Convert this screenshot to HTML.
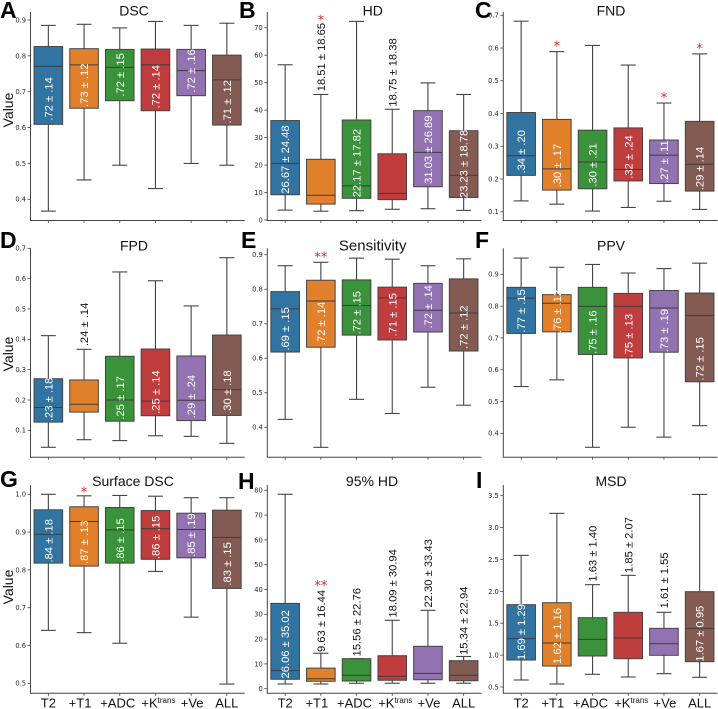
<!DOCTYPE html>
<html lang="en">
<head>
<meta charset="utf-8">
<title>Boxplots of segmentation metrics</title>
<style>
html,body{margin:0;padding:0;background:#fff;width:718px;height:709px;overflow:hidden}
svg{display:block}
.tick{font:6.7px "DejaVu Sans",sans-serif;fill:#262626}
.title{font:14px "Liberation Sans",sans-serif;fill:#111}
.ylab{font:14px "Liberation Sans",sans-serif;fill:#111}
.xlab{font:13px "Liberation Sans",sans-serif;fill:#111}
.letter{font:bold 23px "Liberation Sans",sans-serif;fill:#000}
.val{font:11.2px "Liberation Sans",sans-serif}
.star{font:13px "DejaVu Sans",sans-serif;fill:#d62728}
</style>
</head>
<body>
<svg id="figure" xmlns="http://www.w3.org/2000/svg" width="718" height="709" viewBox="0 0 718 709"></svg>
<script>
const categories = ['T2', '+T1', '+ADC', '+Ktrans', '+Ve', 'ALL'];

const dscLow = [.367, .454, .495, .430, .500, .495];
const dscQ1 = [.609, .654, .675, .647, .689, .607];
const dscMedian = [.771, .775, .768, .775, .759, .733];
const dscQ3 = [.826, .820, .818, .819, .818, .802];
const dscHigh = [.885, .888, .878, .896, .885, .891];
const dscText = ['.72 ± .14', '.73 ± .12', '.72 ± .15', '.72 ± .14', '.72 ± .16', '.71 ± .12'];
const dscTextAt = [.680, .718, .747, .714, .758, .672];
const dscTextWhite = [true, true, true, true, true, true];
const dscStars = ['', '', '', '', '', ''];
const dscStarAt = [0, 0, 0, 0, 0, 0];
const dscTicks = ['0.4', '0.5', '0.6', '0.7', '0.8', '0.9'];

const hdLow = [3.6, 3.2, 3.4, 3.9, 4.1, 3.5];
const hdQ1 = [9.2, 5.8, 7.9, 7.4, 12.1, 8.2];
const hdMedian = [20.6, 9.0, 12.4, 9.7, 24.6, 16.3];
const hdQ3 = [36.2, 22.1, 36.4, 24.1, 39.8, 32.5];
const hdHigh = [56.5, 45.7, 72.3, 40.3, 49.9, 45.7];
const hdText = ['26.67 ± 24.48', '18.51 ± 18.65', '22.17 ± 17.82', '18.75 ± 18.38', '31.03 ± 26.89', '23.23 ± 18.78'];
const hdTextAt = [22.0, 59.3, 20.7, 53.7, 25.6, 20.4];
const hdTextWhite = [true, false, true, false, true, true];
const hdStars = ['', '*', '', '', '', ''];
const hdStarAt = [0, 73.6, 0, 0, 0, 0];
const hdTicks = ['0', '10', '20', '30', '40', '50', '60', '70'];

const fndLow = [.133, .123, .102, .113, .132, .107];
const fndQ1 = [.211, .166, .170, .194, .186, .163];
const fndMedian = [.271, .231, .252, .229, .273, .245];
const fndQ3 = [.403, .382, .349, .356, .319, .376];
const fndHigh = [.682, .589, .608, .548, .432, .582];
const fndText = ['.34 ± .20', '.30 ± .17', '.30 ± .21', '.32 ± .24', '.27 ± .11', '.29 ± .14'];
const fndTextAt = [.283, .241, .243, .267, .253, .232];
const fndTextWhite = [true, true, true, true, true, true];
const fndStars = ['', '*', '', '', '*', '*'];
const fndStarAt = [0, .612, 0, 0, .455, .604];
const fndTicks = ['0.1', '0.2', '0.3', '0.4', '0.5', '0.6', '0.7'];

const fpdLow = [.044, .069, .066, .082, .080, .057];
const fpdQ1 = [.127, .160, .130, .148, .132, .149];
const fpdMedian = [.175, .186, .200, .196, .199, .234];
const fpdQ3 = [.270, .266, .344, .368, .345, .414];
const fpdHigh = [.412, .367, .622, .593, .510, .669];
const fpdText = ['.23 ± .18', '.24 ± .14', '.25 ± .17', '.25 ± .14', '.29 ± .24', '.30 ± .18'];
const fpdTextAt = [.202, .449, .207, .226, .211, .226];
const fpdTextWhite = [true, false, true, true, true, true];
const fpdStars = ['', '', '', '', '', ''];
const fpdStarAt = [0, 0, 0, 0, 0, 0];
const fpdTicks = ['0.1', '0.2', '0.3', '0.4', '0.5', '0.6', '0.7'];

const sensLow = [.423, .342, .481, .440, .516, .464];
const sensQ1 = [.618, .632, .667, .653, .676, .621];
const sensMedian = [.743, .766, .753, .775, .739, .731];
const sensQ3 = [.793, .826, .827, .806, .817, .830];
const sensHigh = [.868, .878, .890, .887, .868, .888];
const sensText = ['.69 ± .15', '.72 ± .14', '.72 ± .15', '.71 ± .15', '.72 ± .14', '.72 ± .12'];
const sensTextAt = [.685, .701, .732, .726, .749, .690];
const sensTextWhite = [true, true, true, true, true, true];
const sensStars = ['', '**', '', '', '', ''];
const sensStarAt = [0, .899, 0, 0, 0, 0];
const sensTicks = ['0.4', '0.5', '0.6', '0.7', '0.8', '0.9'];

const ppvLow = [.547, .568, .356, .419, .388, .424];
const ppvQ1 = [.714, .719, .648, .637, .655, .562];
const ppvMedian = [.825, .809, .799, .799, .794, .770];
const ppvQ3 = [.859, .836, .859, .840, .849, .841];
const ppvHigh = [.951, .922, .931, .904, .918, .935];
const ppvText = ['.77 ± .15', '.76 ± .12', '.75 ± .16', '.75 ± .13', '.73 ± .19', '.72 ± .15'];
const ppvTextAt = [.785, .783, .718, .707, .723, .634];
const ppvTextWhite = [true, true, true, true, true, true];
const ppvStars = ['', '', '', '', '', ''];
const ppvStarAt = [0, 0, 0, 0, 0, 0];
const ppvTicks = ['0.4', '0.5', '0.6', '0.7', '0.8', '0.9'];

const sdscLow = [.640, .634, .606, .796, .675, .498];
const sdscQ1 = [.818, .810, .818, .828, .832, .751];
const sdscMedian = [.894, .928, .906, .909, .907, .886];
const sdscQ3 = [.959, .967, .965, .957, .950, .958];
const sdscHigh = [1.0, .996, .997, .995, .991, .991];
const sdscText = ['.84 ± .18', '.87 ± .13', '.86 ± .15', '.86 ± .15', '.85 ± .19', '.83 ± .15'];
const sdscTextAt = [.877, .873, .879, .886, .892, .816];
const sdscTextWhite = [true, true, true, true, true, true];
const sdscStars = ['', '*', '', '', '', ''];
const sdscStarAt = [0, 1.011, 0, 0, 0, 0];
const sdscTicks = ['0.5', '0.6', '0.7', '0.8', '0.9', '1.0'];

const hd95Low = [1.9, 1.9, 2.2, 2.2, 2.2, 2.2];
const hd95Q1 = [3.8, 3.0, 3.1, 3.4, 3.6, 3.2];
const hd95Median = [7.3, 4.0, 5.4, 5.0, 6.2, 5.4];
const hd95Q3 = [34.4, 8.3, 12.1, 13.3, 17.1, 11.3];
const hd95High = [78.4, 14.3, 12.1, 27.6, 31.6, 13.0];
const hd95Text = ['26.06 ± 35.02', '9.63 ± 16.44', '15.56 ± 22.76', '18.09 ± 30.94', '22.30 ± 33.43', '15.34 ± 22.94'];
const hd95TextAt = [17.9, 27.3, 26.8, 42.5, 46.5, 27.4];
const hd95TextWhite = [true, false, false, false, false, false];
const hd95Stars = ['', '**', '', '', '', ''];
const hd95StarAt = [0, 42.5, 0, 0, 0, 0];
const hd95Ticks = ['0', '10', '20', '30', '40', '50', '60', '70', '80'];

const msdLow = [.610, .547, .699, .657, .709, .652];
const msdQ1 = [.923, .829, .986, .944, .997, .897];
const msdMedian = [1.258, 1.190, 1.247, 1.268, 1.179, 1.420];
const msdQ3 = [1.791, 1.822, 1.587, 1.671, 1.420, 1.995];
const msdHigh = [2.564, 3.223, 2.105, 2.251, 1.671, 3.520];
const msdText = ['1.69 ± 1.29', '1.62 ± 1.16', '1.63 ± 1.40', '1.85 ± 2.07', '1.61 ± 1.55', '1.67 ± 0.95'];
const msdTextAt = [1.362, 1.300, 2.591, 2.727, 2.172, 1.336];
const msdTextWhite = [true, true, false, false, false, true];
const msdStars = ['', '', '', '', '', ''];
const msdStarAt = [0, 0, 0, 0, 0, 0];
const msdTicks = ['0.5', '1.0', '1.5', '2.0', '2.5', '3.0', '3.5'];

const colors = ['#3274a1', '#e1812c', '#3a923a', '#c03d3e', '#9372b2', '#845b53'];
const SVG_NS = 'http://www.w3.org/2000/svg';
const INK = '#444444';
const svg = document.getElementById('figure');

function make(parent, tag, attrs) {
  const node = document.createElementNS(SVG_NS, tag);
  for (const key in attrs) node.setAttribute(key, attrs[key]);
  parent.appendChild(node);
  return node;
}

function drawPanel(p) {
  const xOf = i => p.x0 + 17.85 + 35.7 * i;
  const yOf = v => p.pa + (v - p.va) * (p.pb - p.pa) / (p.vb - p.va);

  const g = make(svg, 'g', {});
  
  

  const spineY = make(g, 'line', {x1: p.x0, x2: p.x0, y1: p.top, y2: p.bottom, stroke: INK, 'stroke-width': 1});
  
  

  const spineX = make(g, 'line', {x1: p.x0 - .5, x2: p.x0 + 214.2, y1: p.bottom, y2: p.bottom, stroke: INK, 'stroke-width': 1});
  
  

  const title = make(g, 'text', {x: p.titleX, y: p.titleY, 'text-anchor': 'middle', class: 'title'});
  if (p.title === 'Sensitivity') title.setAttribute('font-size', '15');
  if (p.title === 'Sensitivity') title.style.fontSize = '15px';
  title.textContent = p.title;
  
  

  const letter = make(g, 'text', {x: p.letterX, y: p.letterY, class: 'letter'});
  letter.textContent = p.letter;
  
  

  p.ticks.forEach(label => {
    const v = parseFloat(label);
    const tick = make(g, 'line', {x1: p.x0 - 3, x2: p.x0, y1: yOf(v), y2: yOf(v), stroke: INK, 'stroke-width': .8});
    
    
    const tickLabel = make(g, 'text', {x: p.x0 - 4.5, y: yOf(v) + 2.4, 'text-anchor': 'end', class: 'tick'});
    tickLabel.textContent = label;
    
    
  });

  if (p.yLabelAt) {
    const yLabel = make(g, 'text', {transform: 'translate(13,' + p.yLabelAt + ') rotate(-90)', 'text-anchor': 'middle', class: 'ylab'});
    yLabel.textContent = 'Value';
    
    
  }

  categories.forEach((cat, i) => {
    const cx = xOf(i);
    const box = make(g, 'g', {});
    
    

    const xTick = make(box, 'line', {x1: cx, x2: cx, y1: p.bottom, y2: p.bottom + 2.5, stroke: INK, 'stroke-width': .8});
    
    

    const whiskerHigh = make(box, 'line', {x1: cx, x2: cx, y1: yOf(p.q3[i]), y2: yOf(p.high[i]), stroke: INK, 'stroke-width': 1.1});
    
    

    const whiskerLow = make(box, 'line', {x1: cx, x2: cx, y1: yOf(p.q1[i]), y2: yOf(p.low[i]), stroke: INK, 'stroke-width': 1.1});
    
    

    const capHigh = make(box, 'line', {x1: cx - 7.5, x2: cx + 7.5, y1: yOf(p.high[i]), y2: yOf(p.high[i]), stroke: INK, 'stroke-width': 1.1});
    
    

    const capLow = make(box, 'line', {x1: cx - 7.5, x2: cx + 7.5, y1: yOf(p.low[i]), y2: yOf(p.low[i]), stroke: INK, 'stroke-width': 1.1});
    
    

    const rect = make(box, 'rect', {x: cx - 14.3, width: 28.6, y: yOf(p.q3[i]), height: yOf(p.q1[i]) - yOf(p.q3[i]), fill: colors[i], stroke: INK, 'stroke-width': 1});
    
    

    const median = make(box, 'line', {x1: cx - 14.3, x2: cx + 14.3, y1: yOf(p.median[i]), y2: yOf(p.median[i]), stroke: '#3c3c3c', 'stroke-width': 1});
    
    

    const value = make(box, 'text', {transform: 'translate(' + cx + ',' + yOf(p.textAt[i]) + ') rotate(-90)', 'text-anchor': 'middle', dy: '.36em', class: 'val', fill: p.textWhite[i] ? '#fff' : '#111'});
    value.textContent = p.text[i];
    
    

    if (p.stars[i]) {
      const star = make(box, 'text', {x: cx, y: yOf(p.starAt[i]) + 6.5, 'text-anchor': 'middle', class: 'star'});
      star.textContent = p.stars[i];
      
      
    }

    if (p.xLabels) {
      const nudge = [0, -4, -2, 3, 1, 0][i];
      const xLabel = make(box, 'text', {x: cx + nudge, y: p.bottom + 14.3, 'text-anchor': 'middle', class: 'xlab'});
      if (cat === '+Ktrans') {
        xLabel.appendChild(document.createTextNode('+K'));
        const sup = make(xLabel, 'tspan', {dy: -4.5, 'font-size': 8});
        sup.textContent = 'trans';
        
        
      } else {
        xLabel.textContent = cat;
      }
      
      
    }
  });
}

const panels = [
  {slug: 'dsc', title: 'DSC', letter: 'A', letterX: 0, letterY: 18, titleX: 134, titleY: 15.3, x0: 30.5, top: 12, bottom: 220.5, va: .9, pa: 20, vb: .4, pb: 199.3, yLabelAt: 110, low: dscLow, q1: dscQ1, median: dscMedian, q3: dscQ3, high: dscHigh, text: dscText, textAt: dscTextAt, textWhite: dscTextWhite, stars: dscStars, starAt: dscStarAt, ticks: dscTicks},
  {slug: 'hd', title: 'HD', letter: 'B', letterX: 239, letterY: 18, titleX: 372.7, titleY: 15.3, x0: 267.3, top: 12, bottom: 220.5, va: 0, pa: 220, vb: 70, pb: 27.7, low: hdLow, q1: hdQ1, median: hdMedian, q3: hdQ3, high: hdHigh, text: hdText, textAt: hdTextAt, textWhite: hdTextWhite, stars: hdStars, starAt: hdStarAt, ticks: hdTicks},
  {slug: 'fnd', title: 'FND', letter: 'C', letterX: 475, letterY: 18, titleX: 611, titleY: 15.3, x0: 503.3, top: 12, bottom: 220.5, va: .7, pa: 15.3, vb: .1, pb: 211.7, low: fndLow, q1: fndQ1, median: fndMedian, q3: fndQ3, high: fndHigh, text: fndText, textAt: fndTextAt, textWhite: fndTextWhite, stars: fndStars, starAt: fndStarAt, ticks: fndTicks},
  {slug: 'fpd', title: 'FPD', letter: 'D', letterX: 0, letterY: 248, titleX: 134, titleY: 250.5, x0: 30.5, top: 248.3, bottom: 457.3, va: .7, pa: 248.3, vb: .1, pb: 430.3, yLabelAt: 354, low: fpdLow, q1: fpdQ1, median: fpdMedian, q3: fpdQ3, high: fpdHigh, text: fpdText, textAt: fpdTextAt, textWhite: fpdTextWhite, stars: fpdStars, starAt: fpdStarAt, ticks: fpdTicks},
  {slug: 'sensitivity', title: 'Sensitivity', letter: 'E', letterX: 241, letterY: 248, titleX: 372.7, titleY: 250.5, x0: 267.3, top: 248.3, bottom: 457.3, va: .9, pa: 254.7, vb: .4, pb: 427.3, low: sensLow, q1: sensQ1, median: sensMedian, q3: sensQ3, high: sensHigh, text: sensText, textAt: sensTextAt, textWhite: sensTextWhite, stars: sensStars, starAt: sensStarAt, ticks: sensTicks},
  {slug: 'ppv', title: 'PPV', letter: 'F', letterX: 475, letterY: 248, titleX: 611, titleY: 250.5, x0: 503.3, top: 248.3, bottom: 457.3, va: .9, pa: 274.3, vb: .4, pb: 433.3, low: ppvLow, q1: ppvQ1, median: ppvMedian, q3: ppvQ3, high: ppvHigh, text: ppvText, textAt: ppvTextAt, textWhite: ppvTextWhite, stars: ppvStars, starAt: ppvStarAt, ticks: ppvTicks},
  {slug: 'surface-dsc', title: 'Surface DSC', letter: 'G', letterX: 0, letterY: 487, titleX: 133, titleY: 486, x0: 30.5, top: 485, bottom: 693.3, va: 1.0, pa: 494.3, vb: .5, pb: 683.3, yLabelAt: 587, xLabels: true, low: sdscLow, q1: sdscQ1, median: sdscMedian, q3: sdscQ3, high: sdscHigh, text: sdscText, textAt: sdscTextAt, textWhite: sdscTextWhite, stars: sdscStars, starAt: sdscStarAt, ticks: sdscTicks},
  {slug: 'hd95', title: '95% HD', letter: 'H', letterX: 238, letterY: 489, titleX: 372, titleY: 486, x0: 267.3, top: 485, bottom: 693.3, va: 80, pa: 490.3, vb: 0, pb: 688.7, xLabels: true, low: hd95Low, q1: hd95Q1, median: hd95Median, q3: hd95Q3, high: hd95High, text: hd95Text, textAt: hd95TextAt, textWhite: hd95TextWhite, stars: hd95Stars, starAt: hd95StarAt, ticks: hd95Ticks},
  {slug: 'msd', title: 'MSD', letter: 'I', letterX: 476, letterY: 488, titleX: 611, titleY: 486, x0: 503.3, top: 485, bottom: 693.3, va: 3.5, pa: 495.7, vb: .5, pb: 687, xLabels: true, low: msdLow, q1: msdQ1, median: msdMedian, q3: msdQ3, high: msdHigh, text: msdText, textAt: msdTextAt, textWhite: msdTextWhite, stars: msdStars, starAt: msdStarAt, ticks: msdTicks}
];

panels.forEach(drawPanel);
</script>
</body>
</html>
